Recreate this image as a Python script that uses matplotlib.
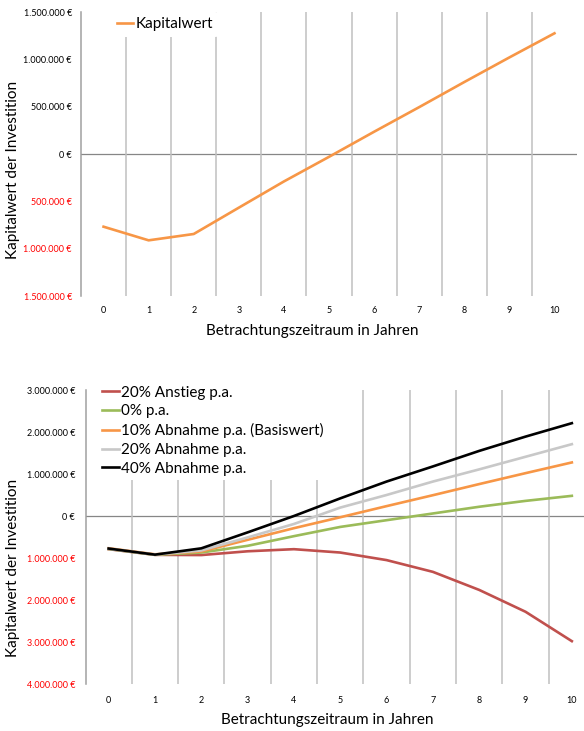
import matplotlib.pyplot as plt
import numpy as np
from matplotlib.ticker import FuncFormatter

plt.rcParams['font.family'] = ['Lato', 'DejaVu Sans']

# Jahre 0..10
jahre = np.arange(11)
jahr_labels = [str(j) for j in jahre]

# Kapitalwert (Basisszenario) in Euro
kapitalwert = [-768000, -912000, -845000, -567000, -290000, -30000,
               235000, 495000, 760000, 1020000, 1275000]

# Sensitivitaet: Entwicklung pro Jahr
anstieg_20 = [-790000, -925000, -930000, -840000, -790000, -870000,
              -1050000, -1330000, -1760000, -2280000, -2980000]
null_pa = [-785000, -925000, -870000, -710000, -480000, -260000,
           -100000, 60000, 220000, 360000, 480000]
abnahme_10 = kapitalwert
abnahme_20 = [-780000, -920000, -820000, -510000, -190000, 200000,
              500000, 820000, 1110000, 1410000, 1710000]
abnahme_40 = [-775000, -920000, -770000, -390000, 0, 420000,
              820000, 1180000, 1550000, 1890000, 2210000]

serien = [
    ('20% Anstieg p.a.', anstieg_20, '#C0504D'),
    ('0% p.a.', null_pa, '#9BBB59'),
    ('10% Abnahme p.a. (Basiswert)', abnahme_10, '#F79646'),
    ('20% Abnahme p.a.', abnahme_20, '#C8C8C8'),
    ('40% Abnahme p.a.', abnahme_40, '#000000'),
]

W, H = 584, 731
fig = plt.figure(figsize=(W / 100, H / 100), dpi=100)


def euro(v, pos):
    s = f"{abs(v):,.0f}".replace(',', '.')
    return f"{s} €"


def style_axis(ax, ymin, ymax, step, ypad, xpad):
    ax.set_xlim(-0.5, 10.5)
    ax.set_ylim(ymin, ymax)
    ax.set_yticks(np.arange(ymin, ymax + step, step))
    ax.yaxis.set_major_formatter(FuncFormatter(euro))
    ax.set_xticks(jahre)
    ax.set_xticklabels(jahr_labels)
    ax.set_xticks(jahre[:-1] + 0.5, minor=True)
    ax.tick_params(axis='both', which='both', length=0, labelsize=6.5)
    ax.tick_params(axis='y', pad=ypad)
    ax.tick_params(axis='x', pad=xpad)
    for lbl, v in zip(ax.get_yticklabels(), ax.get_yticks()):
        lbl.set_color('#FF0000' if v < 0 else '#000000')
    ax.grid(axis='x', which='minor', color='#C0C0C0', linewidth=1.1)
    ax.grid(axis='y', visible=False)
    ax.axhline(0, color='#868686', linewidth=0.9, zorder=1)
    for side in ['top', 'right', 'bottom']:
        ax.spines[side].set_visible(False)
    ax.spines['left'].set_color('#A0A0A0')
    ax.spines['left'].set_linewidth(1.1)


# oberes Diagramm: Kapitalwert
ax1 = fig.add_axes([81 / W, 1 - 296 / H, 496 / W, 284 / H])
style_axis(ax1, -1500000, 1500000, 500000, 6.5, 7)
ax1.plot(jahre, kapitalwert, color='#F79646', linewidth=1.9, label='Kapitalwert', zorder=3)
leg1 = ax1.legend(loc='upper left', bbox_to_anchor=(112 / W, 1 - 12 / H),
                  bbox_transform=fig.transFigure, fontsize=11, frameon=True,
                  handlelength=1.05, handletextpad=0.15, borderpad=0.35,
                  borderaxespad=0)
leg1.get_frame().set_edgecolor('none')
leg1.get_frame().set_facecolor('white')
leg1.get_frame().set_alpha(1)
leg1.set_zorder(5)

# unteres Diagramm: Szenarien
ax2 = fig.add_axes([85.5 / W, 1 - 684 / H, 509.5 / W, 294 / H])
style_axis(ax2, -4000000, 3000000, 1000000, 7.5, 8.5)
for name, werte, farbe in serien:
    ax2.plot(jahre, werte, color=farbe, linewidth=1.9, label=name, zorder=3)
leg2 = ax2.legend(loc='upper left', bbox_to_anchor=(97 / W, 1 - 381 / H),
                  bbox_transform=fig.transFigure, fontsize=11, frameon=True,
                  handlelength=1.15, handletextpad=0.1, borderpad=0.3,
                  labelspacing=0.31, borderaxespad=0)
leg2.get_frame().set_edgecolor('none')
leg2.get_frame().set_facecolor('white')
leg2.get_frame().set_alpha(1)
leg2.set_zorder(5)

# Achsentitel
fig.text(13 / W, 1 - 170 / H, 'Kapitalwert der Investition', rotation=90,
         ha='center', va='center', fontsize=11)
fig.text(312 / W, 1 - 331 / H, 'Betrachtungszeitraum in Jahren',
         ha='center', va='center', fontsize=11)
fig.text(13 / W, 1 - 568 / H, 'Kapitalwert der Investition', rotation=90,
         ha='center', va='center', fontsize=11)
fig.text(327 / W, 1 - 720 / H, 'Betrachtungszeitraum in Jahren',
         ha='center', va='center', fontsize=11)

fig.savefig('out.png', dpi=100)
